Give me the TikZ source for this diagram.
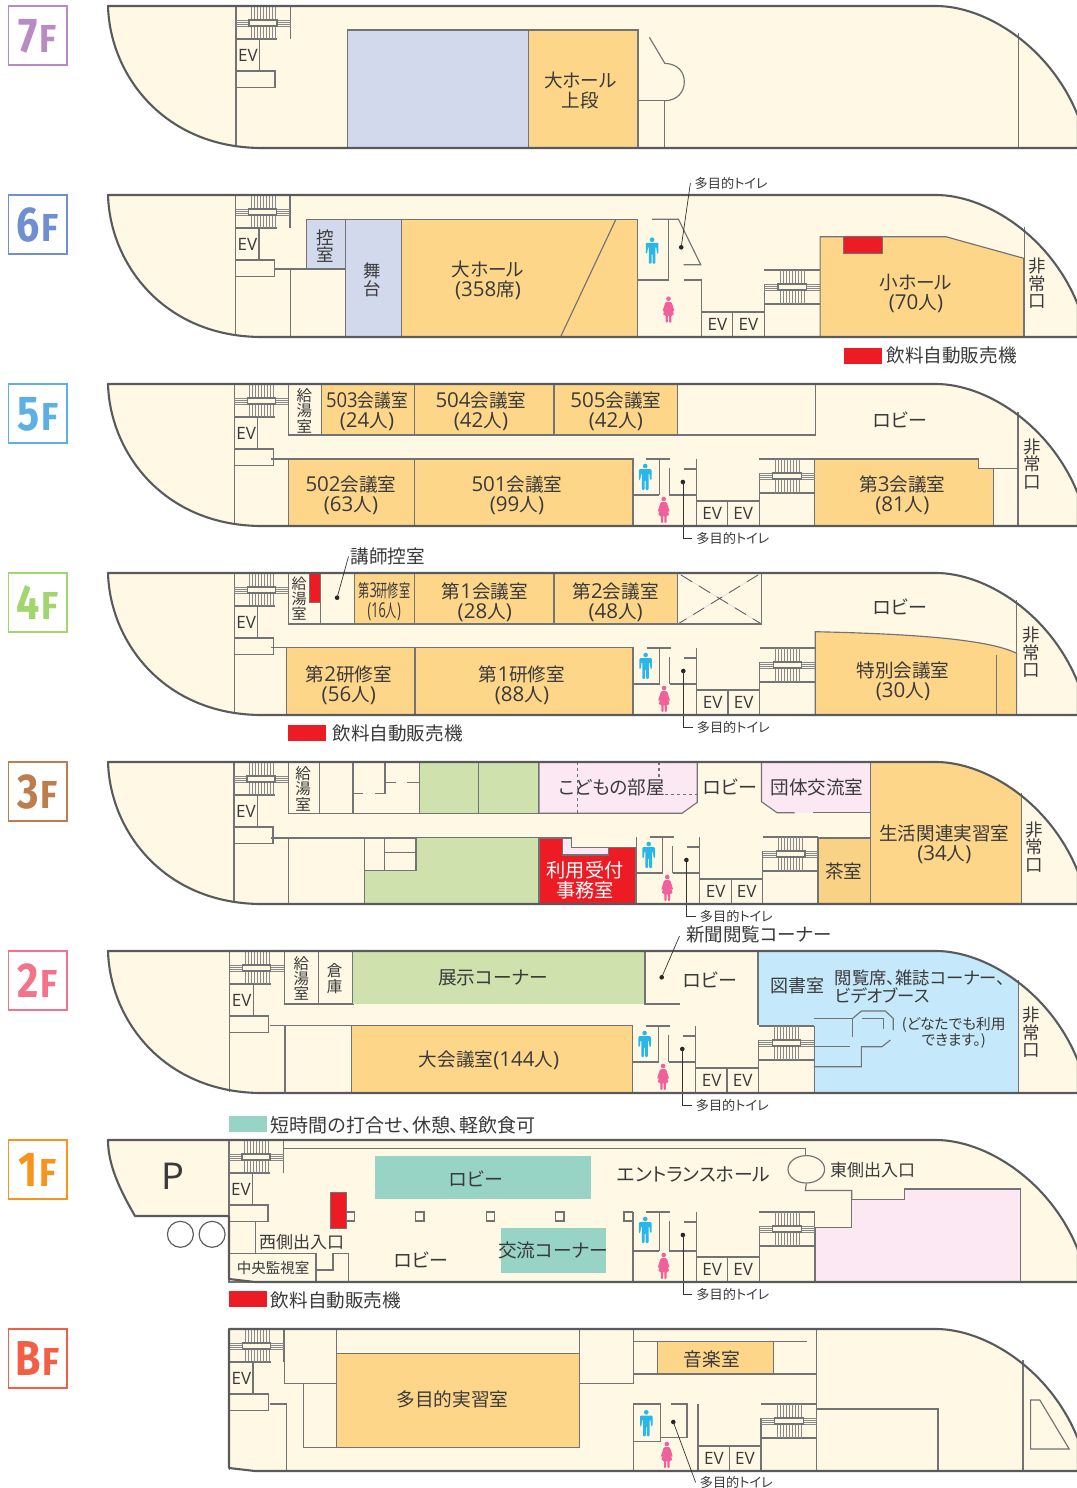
\documentclass[tikz,border=0pt]{standalone}
\usepackage{fontspec}
\usepackage{graphicx}
\usetikzlibrary{shapes.geometric}
\setmainfont{Noto Sans CJK JP}[RawFeature=+palt]
\newfontfamily\flfont{Fira Sans}[UprightFont=* Bold]
\newfontfamily\opens{Open Sans}
\newcommand\Dg[1]{{\opens\fontsize{20.5}{20}\selectfont #1}}
\newcommand\Ev{{\opens\fontsize{17}{17}\selectfont EV}}
\definecolor{cream}{HTML}{FEF8E5}
\definecolor{wallc}{HTML}{727375}
\definecolor{hullc}{HTML}{595A5C}
\definecolor{txtc}{HTML}{3A3A3A}
\definecolor{orng}{HTML}{FDD68A}
\definecolor{lav}{HTML}{D3D9EC}
\definecolor{grn}{HTML}{CFE2AE}
\definecolor{pnk}{HTML}{FCE8F2}
\definecolor{blu}{HTML}{C5E8FB}
\definecolor{teal1}{HTML}{98D4C6}
\definecolor{redc}{HTML}{ED1C24}
\definecolor{mancol}{HTML}{29B6E8}
\definecolor{womcol}{HTML}{F0609A}
\definecolor{flA}{HTML}{B98BC4}
\definecolor{flB}{HTML}{6F8FD0}
\definecolor{flC}{HTML}{5CB0E6}
\definecolor{flD}{HTML}{A3D56E}
\definecolor{flE}{HTML}{BC7E4E}
\definecolor{flF}{HTML}{F2748A}
\definecolor{flG}{HTML}{F7941E}
\definecolor{flH}{HTML}{F15F46}
\newcounter{nn}
\tikzset{
  hullp/.style={insert path={(108,#1) -- (936,#1) .. controls (985,#1) and (1050,#1+40) .. (1078,#1+110) -- (1078,#1+142) -- (262,#1+142) .. controls (165,#1+142) and (110,#1+70) .. (108,#1) -- cycle}},
  w/.style={draw=wallc,line width=1.15pt},
  rm/.style={draw=wallc,line width=1.15pt},
  hw/.style={draw=hullc,line width=2.1pt,line join=round},
  st/.style={draw=wallc!85,line width=0.6pt},
  tx/.style={inner sep=0pt,align=center,text=txtc},
  fs/.style 2 args={font=\fontsize{#1}{#2}\selectfont},
  r2/.style={fs={18.6}{20}},
  v18/.style={fs={17.5}{17.5}},
  dotn/.style={circle,fill=black!85,inner sep=0pt,minimum size=4.6pt},
  lead/.style={draw=black!80,line width=0.7pt},
  tl/.style={inner sep=0pt,inner xsep=4pt,anchor=west,text=txtc,fs={13.2}{13}},
}
\newcommand\tl[3][]{\stepcounter{nn}\node[tx,#1] (n\arabic{nn}) at (#2) {#3};}
\newcommand\floorbox[4]{% T, digit, colour, digit-name
  \draw[draw=#3,line width=1.3pt] (8.5,#1) rectangle (67,#1+59);
  \stepcounter{nn}\node[anchor=base,inner sep=0pt,text=#3] (n\arabic{nn}) at (37.7,#1+46.5)
    {\flfont\fontsize{49}{49}\selectfont\scalebox{.84}[1]{#2}\kern2pt\fontsize{39}{39}\selectfont\scalebox{.9}[1]{F}};}
\newcommand\westcore[2]{%
  \draw[w] (#1,#2) -- (#1,#2+140.5);
  \draw[w] (#1,#2+33) -- (#1+41,#2+33);
  \draw[w] (#1+54.5,#2) -- (#1+54.5,#2+33);
  \foreach \i in {14,16,18,20} \draw[st] (#1,#2+\i) -- (#1+54.5,#2+\i);
  \foreach \i in {0,...,8} {\draw[st] (#1+15.5+3*\i,#2) -- (#1+15.5+3*\i,#2+14);
    \draw[st] (#1+15.5+3*\i,#2+20) -- (#1+15.5+3*\i,#2+33);}
  \filldraw[rm,fill=cream] (#1+13,#2+14) rectangle (#1+41,#2+20);
  \filldraw[rm,fill=cream] (#1,#2+33) rectangle (#1+23.5,#2+65);
  \filldraw[rm,fill=cream] (#1,#2+65) rectangle (#1+39,#2+81.5);
  \tl{#1+12,#2+49}{\Ev}
}
\newcommand\eastcore[3][0]{%
  \filldraw[rm,fill=cream] (#2,#3+117) rectangle (#2+31.4,#3+142);
  \filldraw[rm,fill=cream] (#2+31.4,#3+117) rectangle (#2+63,#3+142);
  \tl{#2+16,#3+129.3}{\Ev}
  \tl{#2+47,#3+129.3}{\Ev}
  \draw[w] (#2+63,#3+89+#1) -- (#2+63,#3+117);
  \draw[w] (#2+118.7,#3+75+#1) -- (#2+118.7,#3+142);
  \draw[w] (#2+63,#3+75+#1) -- (#2+118.7,#3+75+#1);
  \draw[w] (#2+63,#3+109+#1) -- (#2+118.7,#3+109+#1);
  \foreach \i in {89,91,93,95} \draw[st] (#2+63,#3+\i+#1) -- (#2+118.7,#3+\i+#1);
  \foreach \i in {0,...,8} {\draw[st] (#2+79+3*\i,#3+75+#1) -- (#2+79+3*\i,#3+89+#1);
    \draw[st] (#2+79+3*\i,#3+95+#1) -- (#2+79+3*\i,#3+109+#1);}
  \filldraw[rm,fill=cream] (#2+76.6,#3+89+#1) rectangle (#2+105.3,#3+95+#1);
}
\newcommand\man[2]{%
  \begin{scope}[shift={(#1,#2)},mancol]
   \fill (0,-11) circle (2.3);
   \fill[rounded corners=1pt] (-6.3,-7.8) -- (6.3,-7.8) -- (6.3,3) -- (5,3) -- (4,-4) -- (3.3,-4) -- (3.3,13) -- (0.5,13) -- (0.5,3) -- (-0.5,3) -- (-0.5,13) -- (-3.3,13) -- (-3.3,-4) -- (-4,-4) -- (-5,3) -- (-6.3,3) -- cycle;
  \end{scope}}
\newcommand\woman[2]{%
  \begin{scope}[shift={(#1,#2)},womcol]
   \fill (0,-11) circle (2.3);
   \fill[rounded corners=1pt] (-3,-7.8) -- (3,-7.8) -- (6,1.5) -- (4.8,2) -- (3.2,-2.5) -- (5.5,5.5) -- (2.8,5.5) -- (2.8,13) -- (0.6,13) -- (0.6,5.5) -- (-0.6,5.5) -- (-0.6,13) -- (-2.8,13) -- (-2.8,5.5) -- (-5.5,5.5) -- (-3.2,-2.5) -- (-4.8,2) -- (-6,1.5) -- cycle;
  \end{scope}}
\newcommand\toilet[3][0]{%
  \draw[w] (#2-63.2,#3+75+#1) -- (#2-63.2,#3+142);
  \draw[w] (#2-50,#3+75+#1) -- (#2-26,#3+75+#1);
  \draw[w] (#2-37,#3+75+#1) -- (#2-37,#3+111);
  \draw[w] (#2-63.2,#3+111) -- (#2-37,#3+111);
  \draw[w] (#2-27,#3+111) -- (#2,#3+111);
  \draw[w] (#2-27,#3+84+#1) -- (#2-27,#3+111);
  \draw[w] (#2-12.6,#3+85+#1) -- (#2,#3+85+#1);
  \draw[w] (#2,#3+75+#1) -- (#2,#3+142);
  \man{#2-51}{#3+93+#1}
  \woman{#2-32.5}{#3+126}
  \node[dotn] (d#3) at (#2-13.3,#3+98+#1) {};
  \node[tl] (l#3) at (#2-4,#3+154) {多目的トイレ};
  \draw[lead] (d#3.center) |- (l#3.west);
}
\begin{document}
\begin{tikzpicture}[x=1pt,y=-1pt]
\useasboundingbox (0,0) rectangle (1076,1488);
\fill[white] (0,0) rectangle (1076,1488);
% ---------- floor boxes
\floorbox{6}{7}{flA}{}
\floorbox{195}{6}{flB}{}
\floorbox{384}{5}{flC}{}
\floorbox{573}{4}{flD}{}
\floorbox{762}{3}{flE}{}
\floorbox{951}{2}{flF}{}
\floorbox{1140}{1}{flG}{}
\floorbox{1329}{B}{flH}{}
% ---------- 7F
\fill[cream,hullp=6];
\westcore{236}{6}
\filldraw[rm,fill=lav] (347.8,30) rectangle (528.2,148);
\filldraw[rm,fill=orng] (528.2,30) rectangle (638,148);
\draw[w] (638,100.7) -- (664.8,100.7) -- (664.8,148);
\draw[w] (649.4,37.3) -- (664.8,63.3) .. controls (678,64) and (684.3,72) .. (684.3,82) .. controls (684.3,92) and (677,100.7) .. (664.8,100.7);
\draw[w] (1018.3,33) -- (1018.3,148);
\draw[hw,hullp=6];
\tl[r2]{580.5,90}{大ホール\\上段}
% ---------- 6F
\fill[cream,hullp=195];
\westcore{235.5}{195}
\filldraw[rm,fill=lav] (306.5,219.3) rectangle (345.7,269);
\filldraw[rm,fill=lav] (345.7,219.3) rectangle (401.2,337);
\filldraw[rm,fill=orng] (401.2,219.3) rectangle (637.4,337);
\draw[w] (615.9,219.3) -- (560.5,337);
\draw[w] (274.5,269) -- (306.5,269);
\draw[w] (290.3,269) -- (290.3,337);
\draw[w] (652,219.3) -- (678.5,219.3) -- (700.7,264.7) -- (683.6,264.7);
\draw[w] (668.9,219.3) -- (668.9,280) -- (637.4,280);
\draw[w] (683.6,280) -- (701.4,280) -- (701.4,337);
\man{652.1}{250.7}
\woman{668.5}{309.7}
\eastcore{701.4}{195}
\filldraw[rm,fill=orng] (820.1,337) -- (820.1,236.7) -- (945.8,236.7) -- (1023.8,258.3) -- (1023.8,337) -- cycle;
\filldraw[rm,fill=redc] (843.6,236.7) rectangle (882.6,253.3);
\draw[w] (1024.5,226.7) -- (1024.5,337);
\draw[hw,hullp=195];
\tl[v18]{325.4,246}{控\\室}
\tl[v18]{372.6,280}{舞\\台}
\tl[r2]{488,280}{大ホール\\\Dg{(358}席\Dg{)}}
\tl[r2]{916,293.5}{小ホール\\\Dg{(70}人\Dg{)}}
\tl[v18]{1037.4,283.5}{非\\常\\口}
\node[dotn] (d6a) at (681.2,247.3) {};
\node[tl] (l6a) at (690.4,183) {多目的トイレ};
\draw[lead] (d6a.center) -- (l6a.west);
\fill[redc] (844,348) rectangle (881.9,363.7);
\tl[fs={18.6}{20},anchor=west]{886.3,355.5}{飲料自動販売機}
% ---------- 5F
\fill[cream,hullp=384];
\westcore{234.2}{384}
\filldraw[rm,fill=cream] (288.6,384) rectangle (321.3,435);
\filldraw[rm,fill=orng] (321.3,384) rectangle (414.6,435);
\filldraw[rm,fill=orng] (414.6,384) rectangle (554,435);
\filldraw[rm,fill=orng] (554,384) rectangle (677.8,435);
\filldraw[rm,fill=cream] (677.8,384) rectangle (815.6,435);
\draw[w] (271.3,459) -- (288.6,459);
\filldraw[rm,fill=orng] (288.6,459) rectangle (414.6,526);
\filldraw[rm,fill=orng] (414.6,459) rectangle (633,526);
\filldraw[rm,fill=orng] (814.9,526) -- (814.9,459) -- (978.6,459) -- (978.6,468.3) -- (993.7,468.3) -- (993.7,526) -- cycle;
\draw[w] (993.7,468.3) -- (1018,468.3);
\draw[w] (1018,412.3) -- (1018,526);
\toilet{696.2}{384}
\eastcore{696.2}{384}
\draw[hw,hullp=384];
\tl[fs={15.5}{15.5}]{304.4,410.5}{給\\湯\\室}
\tl[r2]{367,411.5}{\scalebox{.9}[1]{\Dg{503}会議室}\\\Dg{(24}人\Dg{)}}
\tl[r2]{481,411.5}{\Dg{504}会議室\\\Dg{(42}人\Dg{)}}
\tl[r2]{615.9,411.5}{\Dg{505}会議室\\\Dg{(42}人\Dg{)}}
\tl[r2]{351,495}{\Dg{502}会議室\\\Dg{(63}人\Dg{)}}
\tl[r2]{517,495}{\Dg{501}会議室\\\Dg{(99}人\Dg{)}}
\tl[r2]{902.4,495}{第\Dg{3}会議室\\\Dg{(81}人\Dg{)}}
\tl[fs={19}{20}]{899.7,419.8}{ロビー}
\tl[v18]{1032.3,464}{非\\常\\口}
% ---------- 4F
\fill[cream,hullp=573];
\westcore{234.2}{573}
\filldraw[rm,fill=cream] (288.6,573) rectangle (320.2,624);
\filldraw[rm,fill=redc] (309.6,573) rectangle (320.2,602.7);
\filldraw[rm,fill=cream] (320.2,573) rectangle (354.7,624);
\filldraw[rm,fill=orng] (354.7,573) rectangle (414.6,624);
\filldraw[rm,fill=orng] (414.6,573) rectangle (554,624);
\filldraw[rm,fill=orng] (554,573) rectangle (677.8,624);
\filldraw[rm,fill=cream] (677.8,573) rectangle (761.5,624);
\draw[pnk!80!gray,line width=.6pt] (677.8,573) -- (761.5,624) (761.5,573) -- (677.8,624);
\draw[hullc,line width=.8pt,dash pattern=on 13pt off 8pt] (681,575) -- (761.5,624) (758,575) -- (677.8,624);
\draw[w] (271.3,647.7) -- (286.8,647.7);
\filldraw[rm,fill=orng] (286.8,647.7) rectangle (415,715);
\filldraw[rm,fill=orng] (415,647.7) rectangle (633,715);
\filldraw[rm,fill=orng] (815.2,715) -- (815.2,631.7) .. controls (920,634) and (990,640) .. (1016.6,653.3) -- (1016.6,715) -- cycle;
\draw[w] (996.8,655) -- (996.8,715);
\draw[w] (1016.6,600) -- (1016.6,715);
\toilet{696.6}{573}
\eastcore{696.6}{573}
\draw[hw,hullp=573];
\tl[fs={15}{14.7}]{299,598.5}{給\\湯\\室}
\node[dotn] (d4a) at (337.1,597.7) {};
\node[tx,fs={18.6}{20},anchor=west,inner xsep=2pt] (l4a) at (348.5,556.5) {講師控室};
\draw[lead] (d4a.center) -- (l4a.west);
\tl[fs={18}{20}]{384.3,602}{\scalebox{.62}[1]{第\Dg{3}研修室}\\\scalebox{.62}[1]{\Dg{(16}人\Dg{)}}}
\tl[r2]{484.8,602.3}{第\Dg{1}会議室\\\Dg{(28}人\Dg{)}}
\tl[r2]{615.6,602.3}{第\Dg{2}会議室\\\Dg{(48}人\Dg{)}}
\tl[r2]{348.8,685}{第\Dg{2}研修室\\\Dg{(56}人\Dg{)}}
\tl[r2]{522,685}{第\Dg{1}研修室\\\Dg{(88}人\Dg{)}}
\tl[r2]{903,681.5}{特別会議室\\\Dg{(30}人\Dg{)}}
\tl[fs={19}{20}]{899.7,606.5}{ロビー}
\tl[v18]{1031.3,652.5}{非\\常\\口}
\fill[redc] (288,725) rectangle (326,740.7);
\tl[fs={18.6}{20},anchor=west]{332.3,733.5}{飲料自動販売機}
% ---------- 3F
\fill[cream,hullp=762];
\westcore{234}{762}
\filldraw[rm,fill=cream] (288.6,762) rectangle (319.6,813.3);
\filldraw[rm,fill=cream] (319.6,762) rectangle (353,813.3);
\filldraw[rm,fill=cream] (353,762) rectangle (419.4,813.3);
\draw[w] (385,762) -- (385,793.3) -- (375.3,793.3) (353,793.3) -- (362.6,793.3);
\draw[w] (385,782.7) -- (396,782.7) (407,782.7) -- (419.4,782.7);
\filldraw[rm,fill=grn] (419.4,762) rectangle (478.3,813.3);
\filldraw[rm,fill=grn] (478.3,762) rectangle (539,813.3);
\filldraw[rm,fill=pnk] (539,762) -- (697.3,762) -- (697.3,802.3) -- (681.9,813.3) -- (539,813.3) -- cycle;
\draw[w,dashed] (577.6,762) -- (577.6,813.3);
\draw[w,dashed] (659,762) -- (659,778);
\draw[w,dashed] (664.8,794.3) -- (697.3,794.3);
\fill[pnk] (761.5,762) -- (870.3,762) -- (870.3,812.7) -- (777,812.7) -- (761.5,801.7) -- cycle;
\draw[w] (794.7,812.7) -- (777,812.7) -- (761.5,801.7) -- (761.5,762);
\draw[w] (812.5,812.7) -- (870.3,812.7);
\begin{scope}
\clip[hullp=762];
\filldraw[rm,fill=orng] (870.3,762) rectangle (1021.4,904);
\end{scope}
\draw[w] (271.3,838) -- (539,838);
\draw[w] (288.6,838) -- (288.6,904);
\fill[grn] (364.3,870.7) -- (416,870.7) -- (416,838) -- (539,838) -- (539,904) -- (364.3,904) -- cycle;
\draw[w] (364.3,838) -- (364.3,904) (364.3,870.7) -- (416,870.7) -- (416,838);
\draw[w] (384.3,838) -- (384.3,870.7) (384.3,852.7) -- (416,852.7);
\filldraw[rm,fill=redc] (539,838) -- (562.2,838) -- (562.2,855) -- (608.4,855) -- (608.4,847.7) -- (635.7,847.7) -- (635.7,904) -- (539,904) -- cycle;
\filldraw[rm,fill=pnk] (562.2,838) -- (562.2,855) -- (608.4,855) -- (608.4,847.7) -- (571.5,847.7) -- (571.5,838) -- cycle;
\filldraw[rm,fill=orng!95!brown] (818,838) rectangle (870.3,904);
\draw[w] (636.4,838) -- (636.4,904);
\toilet{699.7}{762}
\eastcore{699.7}{762}
\draw[w] (1021.4,793.3) -- (1021.4,904);
\draw[hw,hullp=762];
\tl[fs={15.5}{15.5}]{303,788.5}{給\\湯\\室}
\tl[fs={18.6}{20}]{612,787.5}{こどもの部屋}
\tl[fs={19}{20}]{729.7,787}{ロビー}
\tl[fs={18.6}{20}]{817,787.5}{団体交流室}
\tl[r2]{944.4,844.5}{生活関連実習室\\\Dg{(34}人\Dg{)}}
\tl[fs={18.6}{20}]{843.6,871}{茶室}
\tl[fs={19.2}{20},text=white]{585,880.5}{利用受付\\事務室}
\tl[v18]{1034.7,847}{非\\常\\口}
% ---------- 2F
\fill[cream,hullp=951];
\westcore{229.7}{951}
\filldraw[rm,fill=cream] (284.4,951) rectangle (318.5,1004);
\filldraw[rm,fill=cream] (318.5,951) rectangle (353,1004);
\fill[grn] (353,951) rectangle (645,1004);
\draw[w] (645,951) -- (645,1004) -- (680,1004);
\begin{scope}
\clip[hullp=951];
\fill[blu] (758,951) -- (1018.3,951) -- (1018.3,1093) -- (813.8,1093) -- (813.8,1025) -- (758,1025) -- cycle;
\end{scope}
\draw[w] (758,951) -- (758,1025);
\draw[w] (813.8,1018.3) -- (852.8,1018.3) -- (852.8,1037.3);
\draw[w] (852.8,1018.3) -- (861.4,1011) -- (885.3,1011) -- (893.2,1018.3) -- (893.2,1030);
\draw[w] (862.4,1018.3) -- (883.6,1018.3) -- (883.6,1029.3);
\draw[w] (813.8,1046.7) -- (850.4,1046.7);
\draw[w] (890.4,1040) -- (881.9,1046.7) -- (861.4,1046.7) -- (861.4,1066.7) -- (813.8,1066.7);
\draw[w] (269.6,1025.3) -- (351.6,1025.3);
\draw[w] (285,1025.3) -- (285,1093);
\filldraw[rm,fill=orng] (351.6,1025.3) rectangle (632.3,1093);
\toilet{695.6}{951}
\eastcore{695.6}{951}
\draw[w] (1018.3,980) -- (1018.3,1093);
\draw[hw,hullp=951];
\tl[fs={15.5}{15}]{301.3,978.5}{給\\湯\\室}
\tl[fs={15.5}{15.5}]{334.7,978.5}{倉\\庫}
\tl[fs={18.7}{20}]{493,978}{展示コーナー}
\tl[fs={19}{20}]{710,979.5}{ロビー}
\tl[fs={18}{20}]{797,985.5}{図書室}
\tl[fs={17.3}{17.5},anchor=west,align=left]{834.7,986.5}{閲覧席、雑誌コーナー、\\ビデオブース}
\tl[fs={14.7}{15.5}]{953.7,1033}{(どなたでも利用\\できます。)}
\tl[fs={18.6}{20}]{489,1060}{大会議室\Dg{(144}人\Dg{)}}
\tl[v18]{1031.6,1032.5}{非\\常\\口}
\node[dotn] (d2a) at (661.7,977.3) {};
\node[tx,fs={18.5}{20},anchor=west,inner xsep=2pt] (l2a) at (684,934.5) {新聞閲覧コーナー};
\coordinate (e2a) at (679.5,936);
\draw[lead] (d2a.center) -- (e2a);
% ---------- 1F
\fill[teal1] (229,1116) rectangle (266.9,1132);
\tl[fs={19}{20},anchor=west]{270.7,1125.5}{短時間の打合せ、休憩、軽飲食可}
\filldraw[fill=cream,draw=none] (108,1140) -- (936,1140) .. controls (985,1140) and (1050,1180) .. (1078,1250) -- (1078,1282) -- (255,1282) -- (229,1279) -- (229,1216) -- (135,1216) .. controls (120,1190) and (108,1165) .. (108,1140) -- cycle;
\westcore{229}{1140}
\draw[w] (284,1148.3) -- (805.3,1148.3) -- (805.3,1156);
\draw[w] (255.5,1221) -- (255.5,1253.3);
\filldraw[rm,fill=cream] (229,1253.3) rectangle (316,1282);
\draw[w] (316,1270) -- (333,1270) -- (333,1253.3) -- (348.5,1253.3) -- (348.5,1282);
\fill[teal1] (375,1156) rectangle (591,1199);
\fill[teal1] (501,1228) rectangle (606,1273);
\foreach \px in {350.5,419.8,490.4,559.8,628.2} \filldraw[rm,fill=cream] (\px-4.2,1212) rectangle (\px+4.2,1221);
\filldraw[rm,fill=redc] (330.6,1192.7) rectangle (346.8,1228.7);
\node[draw=wallc,line width=1.15pt,fill=cream,ellipse,minimum width=36.6pt,minimum height=27.4pt,inner sep=0pt] (eastdoor) at (806.3,1169.3) {};
\coordinate (p1) at (851.8,1190.5);
\draw[w] (eastdoor.south) -- (805.3,1190.5) -- (p1) -- (851.8,1227.3);
\filldraw[rm,fill=pnk] (815.2,1227.3) -- (851.8,1227.3) -- (851.8,1199.3) -- (904.4,1199.3) -- (904.4,1189) -- (1020.3,1189) -- (1020.3,1282) -- (815.2,1282) -- cycle;
\toilet[-3]{696.2}{1140}
\eastcore[-3]{696.2}{1140}
\draw[hw] (108,1140) -- (936,1140) .. controls (985,1140) and (1050,1180) .. (1078,1250) -- (1078,1282) -- (255,1282) -- (229,1279) -- (229,1216) -- (135,1216) .. controls (120,1190) and (108,1165) .. (108,1140) -- cycle;
\node[circle,draw=hullc,line width=1.15pt,minimum size=26pt,inner sep=0pt] (c1) at (180.4,1234.3) {};
\node[circle,draw=hullc,line width=1.15pt,minimum size=26pt,inner sep=0pt] (c2) at (212.1,1234.3) {};
\tl[fs={36}{36}]{172.9,1176.5}{P}
\tl[fs={17}{18},anchor=west]{259,1242}{西側出入口}
\tl[fs={14.5}{16}]{273,1267.5}{中央監視室}
\tl[fs={19}{20}]{476,1178.5}{ロビー}
\tl[fs={19}{20}]{420.8,1259.5}{ロビー}
\tl[fs={18.7}{20}]{553,1250.5}{交流コーナー}
\tl[fs={18.8}{20}]{693.8,1174.8}{エントランスホール}
\tl[fs={17}{18},anchor=west]{830,1170.5}{東側出入口}
\fill[redc] (229,1291) rectangle (266.9,1306.7);
\tl[fs={18.6}{20},anchor=west]{270.7,1300.5}{飲料自動販売機}
% ---------- BF
\fill[cream] (229,1329) -- (936,1329) .. controls (985,1329) and (1050,1369) .. (1078,1439) -- (1078,1471) -- (255,1471) -- (229,1468) -- cycle;
\westcore{229.5}{1329}
\draw[w] (284.8,1329) -- (284.8,1383.3) -- (336.8,1383.3);
\draw[w] (336.8,1329) -- (336.8,1447.7) -- (303.4,1447.7) -- (303.4,1383.3);
\filldraw[rm,fill=orng] (336.8,1353.3) rectangle (579.7,1447.7);
\draw[w] (579.7,1329) -- (579.7,1447.7);
\draw[w] (579.7,1383.3) -- (633.7,1383.3) -- (633.7,1329);
\draw[w] (270,1404) -- (286.2,1404) -- (286.2,1471);
\filldraw[rm,fill=orng] (657.3,1341.7) rectangle (773.5,1374);
\draw[w] (633.7,1341.7) -- (806.7,1341.7);
\draw[w] (633.7,1374) -- (816.2,1374);
\draw[w] (657.3,1341.7) -- (657.3,1374);
\draw[w] (816.2,1329) -- (816.2,1471);
\draw[w] (633.3,1404) -- (660.3,1404) -- (660.3,1441.7) -- (633.3,1441.7);
\draw[w] (633.3,1404) -- (633.3,1471);
\draw[w] (670.6,1404) -- (687,1404) -- (687,1437.7) -- (660.3,1437.7);
\draw[w] (698,1404) -- (698,1471);
\man{646.3}{1423.3}
\woman{666.8}{1455}
\eastcore{698}{1329}
\draw[w] (816.2,1409) -- (938,1409) -- (938,1471);
\draw[w] (1023,1360) -- (1023,1471);
\draw[w] (1030.6,1400) -- (1039.8,1400) -- (1069.2,1449) -- (1030.6,1449) -- cycle;
\draw[hw] (229,1329) -- (936,1329) .. controls (985,1329) and (1050,1369) .. (1078,1439) -- (1078,1471) -- (255,1471) -- (229,1468) -- cycle;
\tl[fs={18.7}{20}]{452.5,1399.5}{多目的実習室}
\tl[fs={18.8}{20}]{711.6,1359.5}{音楽室}
\node[dotn] (dBa) at (673.3,1422) {};
\node[tl] (lBa) at (695.6,1482.3) {多目的トイレ};
\draw[lead] (dBa.center) -- (lBa.west);
\end{tikzpicture}
\end{document}
